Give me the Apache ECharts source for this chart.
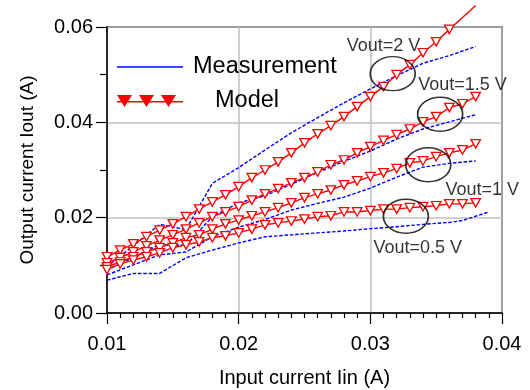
<!DOCTYPE html>
<html>
<head>
<meta charset="utf-8">
<script src="https://cdn.jsdelivr.net/npm/echarts@6/dist/echarts.min.js"></script>
<style>
  html, body { margin: 0; padding: 0; background: #fff; }
  #chart { width: 530px; height: 390px; }
</style>
</head>
<body>
<div id="chart"></div>
<script>
// measured curves (blue dashed), [Iin, Iout]
const meas2V = [[0.010,0.0097],[0.012,0.0141],[0.014,0.0186],[0.016,0.0175],[0.018,0.0272],[0.020,0.0305],[0.022,0.0342],[0.024,0.0378],[0.026,0.0410],[0.028,0.0441],[0.030,0.0470],[0.032,0.0498],[0.034,0.0524],[0.036,0.0540],[0.038,0.0559]];
const meas15V = [[0.010,0.0090],[0.012,0.0117],[0.014,0.0143],[0.016,0.0142],[0.018,0.0202],[0.020,0.0231],[0.022,0.0246],[0.024,0.0270],[0.026,0.0295],[0.028,0.0318],[0.030,0.0340],[0.032,0.0365],[0.034,0.0386],[0.036,0.0401],[0.038,0.0416]];
const meas1V = [[0.010,0.0080],[0.012,0.0101],[0.014,0.0122],[0.016,0.0128],[0.018,0.0160],[0.020,0.0180],[0.022,0.0196],[0.024,0.0216],[0.026,0.0230],[0.028,0.0243],[0.030,0.0262],[0.032,0.0285],[0.034,0.0306],[0.036,0.0314],[0.038,0.0319]];
const meas05V = [[0.010,0.0069],[0.012,0.0083],[0.014,0.0083],[0.016,0.0116],[0.018,0.0132],[0.020,0.0147],[0.022,0.0160],[0.024,0.0164],[0.026,0.0168],[0.028,0.0172],[0.030,0.0177],[0.032,0.0181],[0.034,0.0186],[0.036,0.0190],[0.037,0.0194],[0.039,0.0212]];

// model curves (red, triangles), sampled every 1 mA
const modelX = [0.010,0.011,0.012,0.013,0.014,0.015,0.016,0.017,0.018,0.019,0.020,0.021,0.022,0.023,0.024,0.025,0.026,0.027,0.028,0.029,0.030,0.031,0.032,0.033,0.034,0.035,0.036,0.037,0.038];
const model2V = [0.0118,0.0132,0.0145,0.0160,0.0174,0.0187,0.0202,0.0218,0.0233,0.0248,0.0265,0.0284,0.0300,0.0317,0.0336,0.0357,0.0376,0.0393,0.0412,0.0433,0.0454,0.0475,0.0500,0.0521,0.0546,0.0569,0.0595,0.0620,0.0645];
const model15V = [0.0105,0.0116,0.0128,0.0141,0.0153,0.0164,0.0176,0.0189,0.0202,0.0212,0.0223,0.0237,0.0250,0.0261,0.0273,0.0284,0.0296,0.0311,0.0321,0.0336,0.0349,0.0362,0.0374,0.0386,0.0401,0.0412,0.0431,0.0439,0.0454];
const model1V = [0.0097,0.0107,0.0118,0.0128,0.0137,0.0147,0.0158,0.0164,0.0176,0.0187,0.0195,0.0204,0.0212,0.0221,0.0231,0.0242,0.0250,0.0258,0.0269,0.0277,0.0286,0.0294,0.0303,0.0315,0.0319,0.0328,0.0336,0.0342,0.0355];
const model05V = [0.0091,0.0103,0.0111,0.0118,0.0126,0.0137,0.0143,0.0149,0.0158,0.0162,0.0168,0.0176,0.0185,0.0189,0.0193,0.0197,0.0202,0.0204,0.0212,0.0212,0.0215,0.0218,0.0218,0.0221,0.0223,0.0225,0.0229,0.0229,0.0231];

// annotations (data coordinates)
const annoText = ["Vout=2 V", "Vout=1.5 V", "Vout=1 V", "Vout=0.5 V"];
const annoTextPos = [[0.0310,0.0561],[0.0370,0.0479],[0.0385,0.0258],[0.0336,0.01355]];
const ellipsePos = [[0.0317,0.0502],[0.0353,0.0417],[0.0344,0.0311],[0.0327,0.0203]];

const xTicks = { min: 0.01, max: 0.04, step: 0.01 };
const yTicks = { min: 0, max: 0.06, step: 0.02 };

const FONT = "Liberation Sans, Arial, sans-serif";
const BLUE = "#0000ff";
const RED = "#ff0000";
const yTop = yTicks.max;

var chartDom = document.getElementById("chart");
var myChart = echarts.init(chartDom, null, { renderer: "canvas" });

const measSeries = [meas2V, meas15V, meas1V, meas05V].map(function (d) {
  return {
    name: "Measurement",
    type: "line",
    data: d,
    showSymbol: false,
    symbol: "none",
    clip: false,
    z: 2,
    itemStyle: { color: BLUE },
    lineStyle: { color: BLUE, width: 1.4, type: [3.5, 1.8] },
  };
});

const modelSeries = [model2V, model15V, model1V, model05V].map(function (ys) {
  const data = modelX.map(function (x, i) {
    // points above the frame keep the line but lose the marker
    if (ys[i] > yTop) return { value: [x, ys[i]], symbol: "none" };
    return [x, ys[i]];
  });
  return {
    name: "Model",
    type: "line",
    data: data,
    symbol: "triangle",
    symbolRotate: 180,
    symbolSize: [9.5, 8.5],
    showAllSymbol: true,
    clip: false,
    z: 3,
    itemStyle: { color: "#fff", borderColor: RED, borderWidth: 1.3 },
    lineStyle: { color: RED, width: 1.4 },
  };
});

var option = {
  animation: false,
  backgroundColor: "#fff",
  textStyle: { fontFamily: FONT },
  grid: {
    left: 107, right: 28, top: 27, bottom: 77,
    containLabel: false,
    outerBoundsMode: "none",
    show: true, borderColor: "#000", borderWidth: 1.5,
  },
  legend: [
    {
      left: 112, top: 50,
      itemWidth: 66, itemHeight: 1.4,
      textStyle: { fontFamily: FONT, fontSize: 23.5, color: "#000", padding: [0, 0, 0, 5] },
      data: [{ name: "Measurement", icon: "rect", itemStyle: { color: BLUE, borderWidth: 0 } }],
    },
    {
      left: 112, top: 84,
      itemWidth: 66, itemHeight: 12,
      textStyle: { fontFamily: FONT, fontSize: 23.5, color: "#000", padding: [0, 0, 0, 27] },
      data: [{
        name: "Model",
        icon: "path://M0,6 L66,6 L66,7.6 L0,7.6 Z M0,0 L15,0 L7.5,12 Z M22,0 L37,0 L29.5,12 Z M44,0 L59,0 L51.5,12 Z",
        itemStyle: { color: RED, borderWidth: 0 },
      }],
    },
  ],
  xAxis: {
    type: "value",
    min: xTicks.min, max: xTicks.max, interval: xTicks.step,
    name: "Input current Iin (A)",
    nameLocation: "middle",
    nameGap: 55,
    nameTextStyle: { fontFamily: FONT, fontSize: 20, color: "#000" },
    axisLine: { show: true, onZero: false, lineStyle: { color: "#000", width: 1.5 } },
    axisTick: { show: true, inside: false, length: 11, lineStyle: { color: "#000", width: 1.2 } },
    minorTick: { show: true, splitNumber: 10, length: 5, lineStyle: { color: "#000", width: 1.2 } },
    axisLabel: {
      margin: 21, fontFamily: FONT, fontSize: 20, color: "#000",
      formatter: function (v) { return v.toFixed(2); },
    },
    splitLine: { show: true, lineStyle: { color: "#c0c0c0", width: 1.5 } },
  },
  yAxis: {
    type: "value",
    min: yTicks.min, max: yTicks.max, interval: yTicks.step,
    name: "Output current Iout (A)",
    nameLocation: "middle",
    nameGap: 70,
    nameTextStyle: { fontFamily: FONT, fontSize: 19, color: "#000" },
    axisLine: { show: true, onZero: false, lineStyle: { color: "#000", width: 1.5 } },
    axisTick: { show: true, inside: false, length: 11, lineStyle: { color: "#000", width: 1.2 } },
    minorTick: { show: true, splitNumber: 2, length: 7, lineStyle: { color: "#000", width: 1.2 } },
    axisLabel: {
      margin: 14, fontFamily: FONT, fontSize: 20, color: "#000",
      formatter: function (v) { return v.toFixed(2); },
    },
    splitLine: { show: true, lineStyle: { color: "#c0c0c0", width: 1.5 } },
  },
  series: measSeries.concat(modelSeries).concat([
    {
      name: "ellipses",
      type: "scatter",
      data: ellipsePos,
      symbol: "circle",
      symbolSize: [45, 34],
      clip: false,
      silent: true,
      z: 4,
      itemStyle: { color: "rgba(0,0,0,0)", borderColor: "#000", borderWidth: 1.5 },
    },
    {
      name: "labels",
      type: "scatter",
      data: annoTextPos.map(function (p, i) { return { value: p, name: annoText[i] }; }),
      symbolSize: 0,
      clip: false,
      silent: true,
      z: 5,
      label: {
        show: true, position: "inside",
        formatter: function (p) { return p.name; },
        fontFamily: FONT, fontSize: 18, color: "#000",
      },
    },
  ]),
};

option && myChart.setOption(option);
</script>
</body>
</html>
